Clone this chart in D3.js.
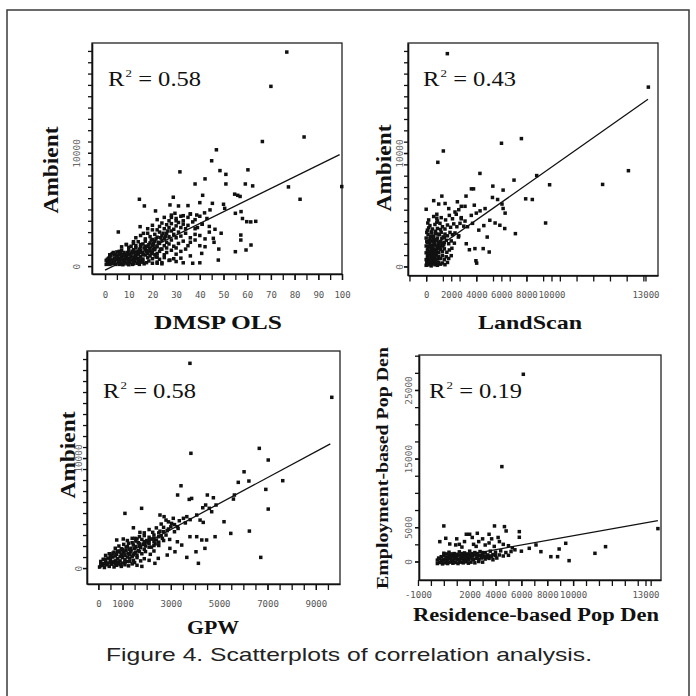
<!DOCTYPE html>
<html><head><meta charset="utf-8">
<script src="https://cdn.jsdelivr.net/npm/d3@7"></script>
<style>body{margin:0;background:#fff} svg{display:block}</style>
</head><body>
<svg id="chart" width="696" height="696"></svg>
<script>
// ---------------- DATA ----------------
const panelXTitles = ["DMSP OLS", "LandScan", "GPW", "Residence-based Pop Den"];
const panelYTitles = ["Ambient", "Ambient", "Ambient", "Employment-based Pop Den"];
const r2Values = ["0.58", "0.43", "0.58", "0.19"];
const captionText = "Figure 4.  Scatterplots of correlation analysis.";

const dmspTickValues = [0,10,20,30,40,50,60,70,80,90,100];
const dmspTickLabels = ["0","10","20","30","40","50","60","70","80","90","100"];
const landscanTickValues = [0,2000,4000,6000,8000,10000,17500];
const landscanTickLabels = ["0","2000","4000","6000","8000","10000","13000"];
const gpwTickValues = [0,1000,3000,5000,7000,9000];
const gpwTickLabels = ["0","1000","3000","5000","7000","9000"];
const resTickValues = [-2000,2000,4000,6000,8000,10000,15600];
const resTickLabels = ["-1000","2000","4000","6000","8000","10000","13000"];
const ambientTickValues = [0,10000];
const ambientTickLabels = ["0","10000"];
const empTickValues = [0,5000,15000,25000];
const empTickLabels = ["0","5000","15000","25000"];

// regression lines: slope, intercept, x-range
const fitSlopes = [103, 0.777, 1.18, 0.337];
const fitIntercepts = [-360, 980, -40, 370];
const fitRanges = [[0,99],[0,17700],[0,9600],[0,16560]];

const dmspAmbient = [
 [76.7,18900],[70,15870],[84,11400],[66.4,11000],[47,10270],[45,9300],[31.6,8320],[48.5,8430],[51,8100],[60.3,8500],[42.2,7700],[38,7250],[51,7250],[59.2,7250],[62.3,7080],[77.4,6990],[99.9,7020],[82.3,5900],[14.5,5900],[28.8,6080],[41.2,6250],[54.7,6350],[56,6250],[57,6150],[16.6,5310],[21.3,4870],
 [27.4,5400],[31,5310],[35,5340],[40,5600],[45.3,5540],[50,5460],[50.5,5100],[44.3,4960],[42,4700],[38.7,4510],[36,4600],[33,4450],[29.5,4660],[28,4300],[30,4000],[55,4660],[57.4,4810],[59.8,3920],[58,4200],[61.5,3900],[63.6,3950],[46.4,3250],[44,3500],[49,2900],[57.3,2740],[57.3,2300],[61.6,1860],[59.5,1420],[55,1270],[47.8,530],[40,290],[37,250],[33,290],[30,400],[27.4,530],[24,300],[22,250],[40.8,1120],[42.2,1710],[40,1800],[38,2300],[36,2100],[40,2700],[42.2,2400],[45.7,2450],[46,2100],[48,1500],[5.6,3010],[12,2150],[14.8,3480],[16.2,2890],[20,3200],[9,1900],[34,1500],[36,900],[32,700],[30,1600],[44,3000],[38,3300],[41,3700],
 [0.5,150],[1.5,300],[2.5,200],[3.5,350],[4.5,150],[5.5,400],[6.5,250],[7.5,120],[8.5,380],[9.5,200],[10.5,300],[11.5,150],[12.5,420],[13.5,250],[14.5,150],[15.5,350],[16.5,200],[17.5,300],[18.5,450],[20,250],[22,350],[24,200],
 [1,600],[2,800],[3,550],[4,700],[5,900],[6,650],[7,800],[8,560],[9,900],[10,700],[11,850],[12,600],[13,950],[14,700],[15,850],[16,620],[17,980],[18,750],[19,900],[20,650],[21,1000],[22,800],[23,600],[25,750],[27,500],[29,650],
 [3,1100],[5,1250],[6,1050],[7,1400],[8,1200],[9,1050],[10,1350],[11,1150],[12,1450],[13,1250],[14,1050],[15,1400],[16,1200],[17,1500],[18,1100],[19,1350],[20,1250],[21,1450],[22,1100],[23,1300],[24,1500],[26,1200],[28,1400],[30,1050],[32,1300],
 [7,1700],[9,1900],[10,1650],[12,2000],[13,1800],[14,2150],[15,1700],[16,1950],[17,2200],[18,1750],[19,2050],[20,1850],[21,2200],[22,1700],[23,2000],[24,2250],[25,1800],[26,2100],[27,1950],[28,2300],[29,1750],[31,2000],[33,2200],[35,1800],
 [13,2500],[15,2700],[17,2400],[18,2900],[19,2600],[20,2350],[21,2800],[22,2550],[23,3000],[24,2700],[25,2450],[26,2900],[27,2600],[28,3100],[29,2800],[30,2500],[31,3000],[32,2650],[34,2900],[36,2500],[38,2800],
 [18,3300],[20,3600],[22,3200],[23,3500],[24,3800],[25,3300],[26,3650],[27,3400],[28,3750],[29,3250],[30,3550],[31,3850],[32,3400],[33,3700],[34,3300],[35,3600],[37,3900],[39,3400],[41,3700],
 [22,4100],[25,4300],[27,4000],[28,4500],[30,4200],[32,4400],[33,4000],[35,4300],[36,4600],[38,4100],[40,4400],[43,4200],
 [1,350],[2,500],[3,250],[4,450],[5,600],[6,400],[7,550],[8,300],[9,650],[10,450],[11,550],[12,300],[13,650],[14,450],[15,550],[16,400],[2,1000],[4,1000],[6,1300],[8,900],[10,1050],[12,1150],[14,1300],[16,1000],[18,1300],[11,1750],[13,1600],[15,1900],[17,1750],[19,1600],[21,1600],
 [0.5,500],[1.5,700],[2.5,900],[3.5,1200],[4.5,1000],[5.5,800],[6.5,1100],[7.5,1000],[8.5,700],[9.5,1200],[10.5,1000],[11.5,1300],[12.5,800],[13.5,1100],[14.5,1500],[15.5,1200],[16.5,1600],[17.5,1300],[18.5,1900],[19.5,2300],[20.5,2000],[21.5,2400],[22.5,2100],[23.5,2500],[24.5,2900],[25.5,2600],[26.5,3100],[19.5,1100],[20.5,1500],[21.5,800],[23.5,1500],[25,1000],[26,1600],[2,150],[4,250],[6,150],[8,200],[10,120],[12,200],[14,320]
];

const landscanAmbient = [
 [1690,18760],[17730,15810],[1370,10180],[930,9180],[7600,11270],[6010,10860],[16140,8440],[14080,7230],[9850,7200],[8820,8010],[7010,7610],[4290,8200],[7940,5960],[8470,5900],[9530,3830],[7120,2890],[1250,6200],[0,5040],[130,3830],[850,4600],[850,4250],[850,3900],[1510,5550],[2490,5700],[2800,5300],[3100,5300],[3180,6200],[3610,6840],[3780,6840],[3840,5400],[5320,7080],[5290,6080],[6140,6730],[5700,5900],[6050,5500],[6140,5110],[6300,4700],[5080,4070],[5500,3830],[5880,3630],[6270,3340],[4870,2590],[3890,1570],[4550,1570],[5030,1270],[3970,500],[4030,290],[3450,1470],[3200,2000],[2570,2590],[3600,4500],[4000,4700],[4300,4900],[4700,5100],[2300,4800],[2600,5000],[2800,4200],[3300,3500],[3700,3800],[4200,3200],[4600,3600],[1800,5100],[1000,5500],[600,5800],
 [0,100],[100,300],[200,150],[300,350],[400,50],[500,250],[600,400],[700,150],[800,300],[900,100],[1000,350],[1150,200],[1300,300],[1500,150],[1700,350],
 [0,600],[100,850],[200,550],[300,950],[400,700],[500,900],[600,600],[700,800],[800,1000],[900,650],[1000,900],[1150,700],[1300,950],[1450,600],[1600,850],[1800,700],[2000,950],
 [0,1200],[100,1450],[200,1150],[300,1350],[400,1600],[500,1250],[600,1500],[700,1150],[800,1400],[900,1600],[1000,1250],[1150,1500],[1300,1300],[1450,1550],[1650,1250],[1850,1450],[2050,1600],
 [0,1800],[100,2100],[200,1750],[300,2000],[400,2250],[500,1850],[600,2150],[700,1900],[850,2300],[1000,1950],[1150,2200],[1300,1800],[1450,2100],[1600,2300],[1800,2000],[2000,2250],[2250,2050],
 [0,2500],[150,2800],[300,2450],[450,2950],[600,2650],[750,2900],[900,2500],[1050,2800],[1200,3000],[1350,2600],[1500,2850],[1700,2700],[1900,3000],[2100,2800],[2300,2950],[2600,2700],
 [100,3200],[300,3600],[500,3300],[700,3700],[900,3350],[1100,3800],[1300,3500],[1500,3300],[1700,3650],[1950,3450],[2200,3750],[2450,3500],[2700,3800],[3000,3550],
 [200,4100],[600,4400],[900,4000],[1200,4300],[1550,4100],[1850,4500],[2100,4200],[2400,4600],[2800,4300],[3100,4000],
 [50,450],[150,700],[250,1000],[350,1250],[450,1450],[550,1700],[650,2000],[750,2350],[250,2250],[350,2650],[550,2350],[50,2200],[150,1650],[450,1050],[650,1300],[750,550],[850,1800],[950,2150],[1100,1650],[1250,2450],[1400,1900],[50,3000],[200,3400],[400,3050],
 [50,150],[250,450],[450,800],[650,1100],[850,1250],[1050,1750],[1250,2050],[1450,2550],[150,1000],[350,1800],[550,2650],[750,3100],[950,2850],[1150,3250],[350,550],[550,900],[750,1350]
];

const gpwAmbient = [
 [3790,18610],[9660,15520],[3830,10430],[6660,10880],[7030,9820],[6030,8750],[5790,7790],[6230,7910],[7630,7940],[6930,7150],[3420,7480],[3280,6640],[3760,6240],[3860,6330],[4510,6640],[4760,6390],[5630,6640],[5590,6270],[7030,5360],[6250,3360],[6720,970],[1790,5430],[1100,4970],[5200,4210],[5480,3150],[4140,430],[4830,2850],
 [1450,3660],[1720,3240],[1520,2700],[1030,2640],[760,2550],[2550,4820],[2720,4670],[2800,4360],[3030,4060],[3100,4520],[3270,3760],[3520,4520],[3660,4670],[4070,4820],[4320,5480],[4440,5730],[4590,5430],[4210,4360],[4340,4150],[4690,5120],[4870,5730],[3790,2850],[4070,2850],[4280,2550],[4480,2550],[4410,1790],[4040,1480],[3660,970],[3170,1480],[2960,1790],[2850,1180],[3450,2090],[3270,2390],[2480,880],[2340,430],
 [50,100],[150,250],[250,50],[350,300],[450,150],[550,350],[650,100],[750,250],[850,400],[950,150],[1100,300],[1250,200],[1400,380],[1600,250],[1800,150],
 [100,600],[200,800],[300,550],[400,900],[500,700],[600,1000],[700,600],[800,850],[900,650],[1000,950],[1100,750],[1200,600],[1300,900],[1450,700],[1600,950],[1750,650],[1900,850],[2100,700],
 [300,1150],[450,1300],[550,1150],[650,1450],[750,1250],[850,1550],[950,1200],[1050,1400],[1150,1600],[1250,1300],[1350,1500],[1450,1200],[1550,1450],[1650,1600],[1800,1300],[1950,1500],[2150,1250],[2300,1550],
 [700,1800],[850,2000],[950,1750],[1050,2150],[1150,1900],[1250,2250],[1350,1800],[1450,2100],[1550,1950],[1650,2300],[1750,1850],[1850,2150],[1950,2000],[2050,2300],[2200,1900],[2350,2200],[2500,2050],
 [1200,2500],[1400,2700],[1550,2450],[1700,2850],[1800,2600],[1900,2950],[2000,2500],[2100,2800],[2200,2650],[2300,3000],[2400,2550],[2500,2850],[2650,2700],[2800,3000],[2950,2600],
 [1900,3200],[2100,3500],[2250,3250],[2400,3650],[2550,3350],[2700,3700],[2850,3400],[3000,3750],[3150,3300],[3300,3600],
 [2600,4000],[2900,4200],[3150,3950],[3350,4300],[3600,4100],[3800,4400],
 [200,400],[400,450],[600,500],[800,550],[1000,450],[1200,1000],[1400,1050],[1600,1150],[1000,1700],[1200,1950],[1400,2300],[1600,2650],[1700,2200],[1900,2400],[2100,2250],[2300,2700],[2500,3200],[2700,3300],[2900,3550],[600,1350],[800,1500],[500,1050],
 [100,350],[300,450],[500,550],[700,400],[900,300],[1100,550],[1300,600],[1500,500],[300,800],[500,850],[700,1100],[900,1050],[1100,1150],[1300,1250],[1500,1350],[1700,1500],[1900,1700],[2100,1900],[2300,2050],[2500,2350],[2700,2500],[900,1450],[1100,1550],[1300,1700],[1500,1800],[1700,2000],[1900,2200],[2100,2500],[2300,2400],[2600,2950]
];

const residenceEmployment = [
 [6150,27290],[4490,13830],[16560,4790],[0,5180],[3920,5180],[4690,5080],[4820,4450],[5840,4350],[5840,3530],[1740,3970],[2000,3970],[2590,4110],[3500,3970],[9430,2650],[12510,2160],[11690,1190],[9690,120],[8280,700],[8800,700],[8920,1820],[-310,2890],[150,3380],[460,2550],[920,2410],[1200,2500],[1400,2100],[1600,2900],[2300,2500],[2500,2200],[2700,2900],[3000,3300],[3200,2400],[3500,2700],[3700,3300],[3900,2200],[4300,2900],[4600,2500],[5000,2300],[5300,2000],[5500,1700],[6000,1500],[6610,1920],[7130,2410],[7510,1430],[4200,3500],[2200,3500],[1000,3300],
 [-500,-300],[-300,-150],[-100,-350],[100,-200],[300,-300],[500,-100],[700,-250],[900,-150],[1100,-300],[1300,-100],[1500,-200],[1700,-50],[1900,-250],[2100,-100],[2400,-200],[2700,0],[3000,-100],
 [-500,200],[-300,400],[-100,150],[100,350],[300,200],[500,450],[700,150],[900,350],[1100,250],[1300,450],[1500,200],[1700,400],[1900,300],[2100,500],[2300,250],[2500,450],[2700,300],[2900,500],[3200,350],[3500,450],[3800,250],[4100,500],
 [-200,700],[0,900],[200,650],[400,850],[600,700],[800,1000],[1000,750],[1200,950],[1400,650],[1600,900],[1800,750],[2000,1000],[2200,800],[2400,950],[2600,700],[2800,900],[3000,1000],[3200,750],[3400,950],[3600,800],[3800,1000],[4000,850],[4300,950],[4600,800],[5000,900],
 [0,1200],[400,1350],[800,1150],[1200,1400],[1600,1250],[2000,1500],[2400,1300],[2800,1450],[3200,1250],[3600,1500],[4000,1350],[4400,1550],[4800,1300],[5200,1450],
 [0,300],[200,100],[400,500],[600,200],[800,600],[1000,400],[1200,100],[1400,500],[1600,600],[1800,200],[2000,600],[2200,350],[2600,550],[3000,650],[3400,600],[3700,700],[-400,500],[-200,0],[200,1100],[600,1100],[1000,1050],[1400,1150],[1800,1100],[2200,1150],[2600,1150],[3000,1300]
];

// ---------------- LAYOUT ----------------
const panels = [
 {pts: dmspAmbient, left:92, right:342, top:43, bottom:274, xDom:[-5.5,100], yDom:[-700,19700],
  xMinor: d3.range(0,101,5), yMinor: d3.range(0,19700,1000),
  xTV: dmspTickValues, xTL: dmspTickLabels, yTV: ambientTickValues, yTL: ambientTickLabels,
  xPad:12, yOff:12, r2x:108, r2y:86,
  xt:{x:218, y:329, len:128, fs:19}, yt:{x:58, y:170, len:87, fs:20}},
 {pts: landscanAmbient, left:408, right:658, top:43, bottom:275.5, xDom:[-1450,18500], yDom:[-800,19700],
  xMinor: d3.range(-1,14).map(k => k*4000/3), yMinor: d3.range(0,19700,1000),
  xTV: landscanTickValues, xTL: landscanTickLabels, yTV: ambientTickValues, yTL: ambientTickLabels,
  xPad:10.5, yOff:5, r2x:423, r2y:86,
  xt:{x:530, y:329, len:104, fs:19}, yt:{x:391, y:168, len:87, fs:20}},
 {pts: gpwAmbient, left:87, right:340, top:351, bottom:584, xDom:[-470,10000], yDom:[-1450,19730],
  xMinor: d3.range(0,10000,500), yMinor: d3.range(0,19730,1000),
  xTV: gpwTickValues, xTL: gpwTickLabels, yTV: ambientTickValues, yTL: ambientTickLabels,
  xPad:11, yOff:5, r2x:103, r2y:398,
  xt:{x:213, y:634, len:52, fs:19}, yt:{x:75, y:455, len:87, fs:20}},
 {pts: residenceEmployment, left:419, right:661, top:355, bottom:580, xDom:[-1920,16800], yDom:[-2700,30100],
  xMinor: d3.range(-1000,16800,1000), yMinor: d3.range(0,30100,2500),
  xTV: resTickValues, xTL: resTickLabels, yTV: empTickValues, yTL: empTickLabels,
  xPad:6, yOff:7, r2x:429, r2y:398,
  xt:{x:536, y:621, len:246, fs:18}, yt:{x:388, y:468, len:242, fs:17}}
];

const svg = d3.select('#chart');
svg.append('rect').attr('width',696).attr('height',696).attr('fill','#fff');
svg.append('path').attr('d','M7,700 V10 H689 V700').attr('fill','none')
  .attr('stroke','#3a3a3a').attr('stroke-width',1.5);

const tickFont = "'DejaVu Sans Mono', monospace";
const serif = "'Liberation Serif', 'Times New Roman', serif";

panels.forEach((p, i) => {
  const x = d3.scaleLinear().domain(p.xDom).range([p.left, p.right]);
  const y = d3.scaleLinear().domain(p.yDom).range([p.bottom, p.top]);
  const g = svg.append('g');

  g.append('rect').attr('x',p.left).attr('y',p.top)
    .attr('width',p.right-p.left).attr('height',p.bottom-p.top)
    .attr('fill','none').attr('stroke','#222').attr('stroke-width',1.3);

  const xm = g.append('g').attr('transform',`translate(0,${p.bottom})`)
    .call(d3.axisBottom(x).tickValues(p.xMinor).tickSize(6).tickSizeOuter(0).tickFormat(''));
  const ym = g.append('g').attr('transform',`translate(${p.left},0)`)
    .call(d3.axisLeft(y).tickValues(p.yMinor).tickSize(4).tickSizeOuter(0).tickFormat(''));
  [xm, ym].forEach(a => {
    a.select('.domain').attr('stroke','#111').attr('stroke-width',1.6);
    a.selectAll('.tick line').attr('stroke','#111').attr('stroke-width',1.3);
  });

  const xa = g.append('g').attr('transform',`translate(0,${p.bottom})`)
    .call(d3.axisBottom(x).tickValues(p.xTV).tickSize(6).tickSizeOuter(0)
      .tickPadding(p.xPad).tickFormat((d,k) => p.xTL[k]));
  xa.select('.domain').remove();
  xa.selectAll('.tick line').attr('stroke','#111').attr('stroke-width',1.3);
  xa.selectAll('text').attr('font-family',tickFont).attr('font-size',9).attr('fill','#555');

  const ya = g.append('g').attr('transform',`translate(${p.left},0)`)
    .call(d3.axisLeft(y).tickValues(p.yTV).tickSize(4).tickSizeOuter(0)
      .tickFormat((d,k) => p.yTL[k]));
  ya.select('.domain').remove();
  ya.selectAll('.tick line').attr('stroke','#111').attr('stroke-width',1.3);
  ya.selectAll('text').attr('x',null).attr('dy',null).attr('text-anchor','middle')
    .attr('transform',`translate(${-p.yOff},0) rotate(-90)`)
    .attr('font-family',tickFont).attr('font-size',9.5).attr('fill','#666');

  g.append('g').selectAll('rect').data(p.pts).join('rect')
    .attr('x', d => x(d[0]) - 1.75).attr('y', d => y(d[1]) - 1.75)
    .attr('width',3.5).attr('height',3.5).attr('fill','#111');

  const [x0, x1] = fitRanges[i];
  g.append('line')
    .attr('x1', x(x0)).attr('y1', y(fitSlopes[i]*x0 + fitIntercepts[i]))
    .attr('x2', x(x1)).attr('y2', y(fitSlopes[i]*x1 + fitIntercepts[i]))
    .attr('stroke','#111').attr('stroke-width',1.3);

  const t = g.append('text').attr('font-family',serif).attr('font-size',21).attr('fill','#111')
    .attr('transform',`translate(${p.r2x},${p.r2y}) scale(1.17,1)`);
  t.append('tspan').text('R');
  t.append('tspan').attr('font-size',11).attr('dy',-9).attr('dx',1).text('2');
  t.append('tspan').attr('dy',9).text(' = ' + r2Values[i]);

  g.append('text').attr('x',p.xt.x).attr('y',p.xt.y).attr('text-anchor','middle')
    .attr('font-family',serif).attr('font-weight','bold').attr('font-size',p.xt.fs).attr('fill','#111')
    .attr('textLength',p.xt.len).attr('lengthAdjust','spacingAndGlyphs')
    .text(panelXTitles[i]);
  g.append('text').attr('text-anchor','middle')
    .attr('transform',`translate(${p.yt.x},${p.yt.y}) rotate(-90)`)
    .attr('font-family',serif).attr('font-weight','bold').attr('font-size',p.yt.fs).attr('fill','#111')
    .attr('textLength',p.yt.len).attr('lengthAdjust','spacingAndGlyphs')
    .text(panelYTitles[i]);
});

svg.append('text').attr('x',106).attr('y',661)
  .attr('font-family',"'Liberation Sans', Arial, sans-serif").attr('font-size',18.5).attr('fill','#222')
  .attr('textLength',486).attr('lengthAdjust','spacingAndGlyphs')
  .text(captionText);
</script>
</body></html>
